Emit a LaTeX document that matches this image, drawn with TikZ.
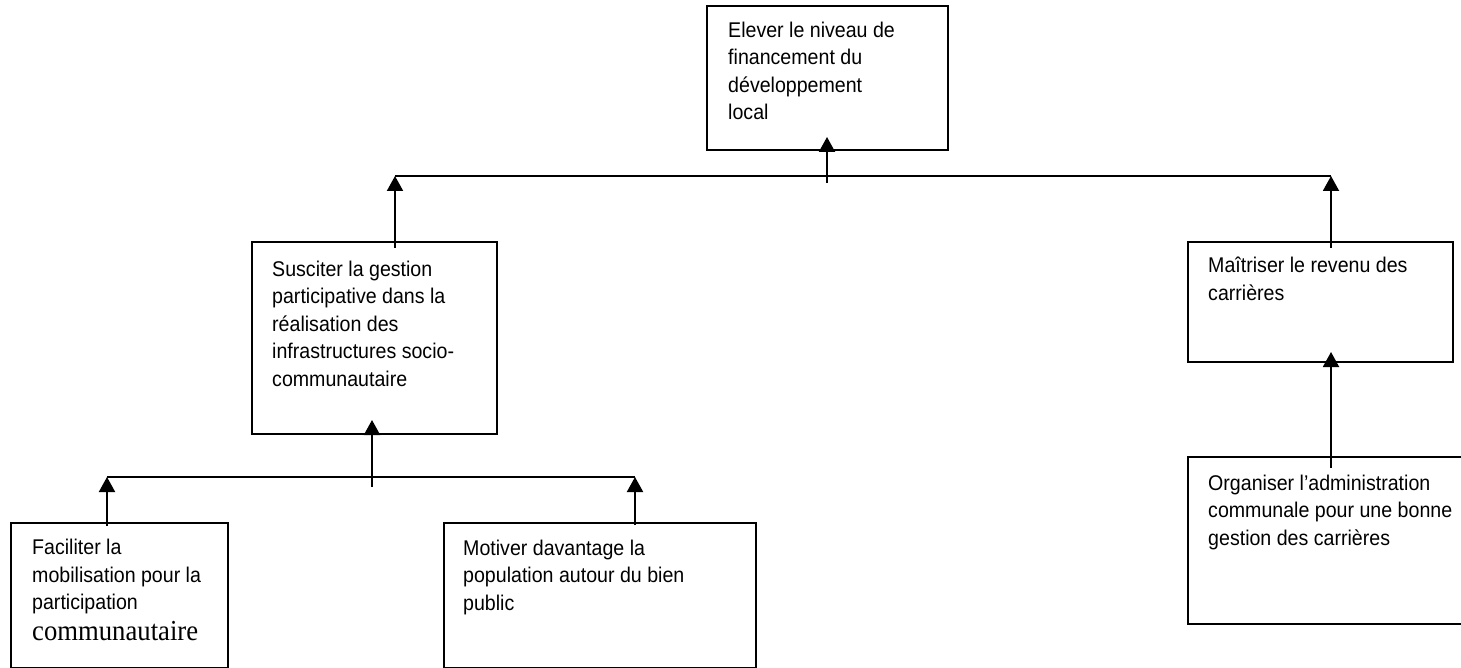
\documentclass[tikz,border=0pt]{standalone}
\usepackage{fontspec}
\setmainfont{Liberation Sans}[FakeStretch=0.92]
\newfontfamily\serifft{Liberation Serif}[FakeStretch=0.92]
\usetikzlibrary{arrows.meta,calc}
\begin{document}
\begin{tikzpicture}[x=1pt,y=1pt,
  box/.style={draw=black,line width=2pt,anchor=north west,inner sep=0pt},
  txt/.style={anchor=base west,inner sep=0pt,align=left,
    font=\fontsize{21.3}{27.5}\selectfont},
  link/.style={line width=2pt},
  arr/.style={line width=2pt,-{Triangle[length=15pt,width=16pt]}}]
\clip (0,0) rectangle (1461,-668);
\useasboundingbox (0,0) rectangle (1461,-668);

% boxes
\node[box,minimum width=241pt,minimum height=144pt] (T) at (706,-5) {};
\node[box,minimum width=245pt,minimum height=192pt] (L) at (251,-241) {};
\node[box,minimum width=265pt,minimum height=120pt] (R) at (1187,-241) {};
\node[box,minimum width=217pt,minimum height=145pt] (F) at (10,-522) {};
\node[box,minimum width=312pt,minimum height=145pt] (M) at (443,-522) {};
\node[box,minimum width=290pt,minimum height=167pt] (O) at (1187,-456) {};

% texts (placed by the baseline of their last line)
\node[txt] (tT) at (728,-120) {Elever le niveau de\\financement du\\développement\\local};
\node[txt] (tL) at (272,-386) {Susciter la gestion\\participative dans la\\réalisation des\\infrastructures socio-\\communautaire};
\node[txt] (tR) at (1208,-300) {Maîtriser le revenu des\\carrières};
\node[txt] (tF) at (32,-640) {Faciliter la\\mobilisation pour la\\participation\\[3pt]{\serifft\fontsize{29}{30}\selectfont communautaire}};
\node[txt] (tM) at (463,-610) {Motiver davantage la\\population autour du bien\\public};
\node[txt] (tO) at (1208,-545) {Organiser l’administration\\communale pour une bonne\\gestion des carrières};

% upper junction
\coordinate (h1l) at (395,-176);
\coordinate (h1r) at (1331,-176);
\coordinate (h1m) at (827,-183);
\draw[link] (h1l) -- (h1r);
\draw[arr] (h1m) -- ($(T.south -| h1m)+(0,14)$);
\draw[arr] ($(L.north -| h1l)+(0,-7)$) -- (h1l);
\draw[arr] ($(R.north -| h1r)+(0,-7)$) -- (h1r);

% lower-left junction
\coordinate (h2l) at (107,-477);
\coordinate (h2r) at (635,-477);
\coordinate (h2m) at (372,-487);
\draw[link] (h2l) -- (h2r);
\draw[arr] (h2m) -- ($(L.south -| h2m)+(0,15)$);
\draw[arr] ($(F.north -| h2l)+(0,-4)$) -- (h2l);
\draw[arr] ($(M.north -| h2r)+(0,-3)$) -- (h2r);

% right chain
\coordinate (oc) at (1331,-468);
\draw[arr] (oc) -- ($(R.south -| oc)+(0,11)$);
\end{tikzpicture}
\end{document}
